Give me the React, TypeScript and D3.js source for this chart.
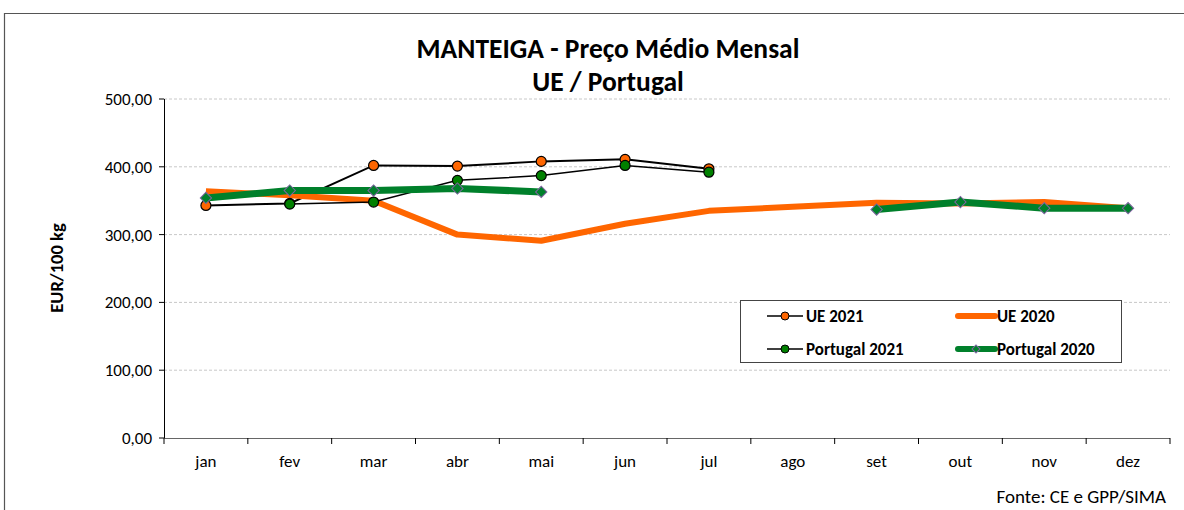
import React from "react";
import * as d3 from "d3";

const months = ["jan", "fev", "mar", "abr", "mai", "jun", "jul", "ago", "set", "out", "nov", "dez"];
const yTicks = [0, 100, 200, 300, 400, 500];
const ue2021: (number | null)[] = [343, 346, 402, 401, 408, 411, 397, null, null, null, null, null];
const ue2020: (number | null)[] = [364, 358, 350, 300, 291, 316, 335, 341, 347, 346, 348, 339];
const pt2021: (number | null)[] = [null, 345, 348, 380, 387, 402, 392, null, null, null, null, null];
const pt2020: (number | null)[] = [354, 365, 365, 368, 363, null, null, null, 337, 348, 339, 339];

const W = 1184;
const H = 510;
const FONT = "Carlito, Lato, 'Liberation Sans', sans-serif";
const ORANGE = "#FF6600";
const GREEN = "#00802B";

export default function App() {
  const x = d3.scaleBand<string>().domain(months).range([164, 1170]);
  const y = d3.scaleLinear().domain([0, 500]).range([438, 99]);
  const cx = (m: string) => (x(m) as number) + x.bandwidth() / 2;

  const mkLine = (vals: (number | null)[]) =>
    d3
      .line<number | null>()
      .defined((d) => d !== null)
      .x((_, i) => cx(months[i]))
      .y((d) => y(d as number))(vals) as string;

  const diamond = d3.symbol().type(d3.symbolSquare).size(64)() as string;
  const diamondSmall = d3.symbol().type(d3.symbolSquare).size(32)() as string;

  const boundaries = d3.range(months.length + 1).map((i) => 164 + i * x.bandwidth());

  return (
    <svg width={W} height={H} style={{ position: "absolute", left: 0, top: 0, background: "#fff" }}>
      {/* frame */}
      <line x1={4} y1={13.5} x2={W} y2={13.5} stroke="#555" strokeWidth={1.2} />
      <line x1={4.5} y1={13} x2={4.5} y2={H} stroke="#555" strokeWidth={1.2} />

      {/* title */}
      <text x={608} y={58} textAnchor="middle" fontFamily={FONT} fontWeight="bold" fontSize={27.5} fill="#000">
        MANTEIGA - Preço Médio Mensal
      </text>
      <text x={608} y={91} textAnchor="middle" fontFamily={FONT} fontWeight="bold" fontSize={27.5} fill="#000">
        UE / Portugal
      </text>

      {/* grid */}
      {yTicks.filter((t) => t > 0).map((t) => (
        <line key={t} x1={164} x2={1170} y1={y(t)} y2={y(t)} stroke="#c8c8c8" strokeWidth={1} strokeDasharray="3,2" />
      ))}

      {/* y axis */}
      <line x1={164.5} x2={164.5} y1={99} y2={438} stroke="#000" strokeWidth={1} />
      {yTicks.map((t) => (
        <g key={t}>
          <line x1={159} x2={164} y1={y(t)} y2={y(t)} stroke="#000" />
          <text x={152} y={y(t) + 6} textAnchor="end" fontFamily={FONT} fontSize={17} fill="#000">
            {d3.format(".2f")(t).replace(".", ",")}
          </text>
        </g>
      ))}
      <text
        transform={`translate(63,268) rotate(-90)`}
        textAnchor="middle"
        fontFamily={FONT}
        fontWeight="bold"
        fontSize={18.5}
        fill="#000"
      >
        EUR/100 kg
      </text>

      {/* x axis */}
      <line x1={164} x2={1170} y1={438.5} y2={438.5} stroke="#666" strokeWidth={1.2} />
      {boundaries.map((b, i) => (
        <line key={i} x1={b} x2={b} y1={438} y2={444} stroke="#000" />
      ))}
      {months.map((m) => (
        <text key={m} x={cx(m)} y={467} textAnchor="middle" fontFamily={FONT} fontSize={17} fill="#000">
          {m}
        </text>
      ))}

      {/* series */}
      <path d={mkLine(ue2021)} fill="none" stroke="#000" strokeWidth={2} />
      <path d={mkLine(ue2020)} fill="none" stroke={ORANGE} strokeWidth={6} strokeLinejoin="round" />
      <path d={mkLine(pt2021)} fill="none" stroke="#000" strokeWidth={1.5} />
      <path d={mkLine(pt2020)} fill="none" stroke={GREEN} strokeWidth={7} strokeLinejoin="round" />

      {ue2021.map((v, i) =>
        v === null ? null : (
          <circle key={"u" + i} cx={cx(months[i])} cy={y(v)} r={5} fill={ORANGE} stroke="#000" strokeWidth={1.2} />
        )
      )}
      {pt2021.map((v, i) =>
        v === null ? null : (
          <circle key={"p" + i} cx={cx(months[i])} cy={y(v)} r={5} fill="#008000" stroke="#000" strokeWidth={1.2} />
        )
      )}
      {pt2020.map((v, i) =>
        v === null ? null : (
          <path
            key={"d" + i}
            d={diamond}
            transform={`translate(${cx(months[i])},${y(v)}) rotate(45)`}
            fill={GREEN}
            stroke="#8064A2"
            strokeWidth={1}
          />
        )
      )}

      {/* legend */}
      <rect x={740.5} y={300.5} width={381} height={62} fill="#fff" stroke="#444" strokeWidth={1} />
      <g fontFamily={FONT} fontWeight="bold" fontSize={17} fill="#000">
        <line x1={767} x2={803} y1={316} y2={316} stroke="#000" strokeWidth={1.5} />
        <circle cx={785} cy={316} r={4} fill={ORANGE} stroke="#000" strokeWidth={1} />
        <text x={806} y={322}>UE 2021</text>

        <line x1={958} x2={995} y1={316} y2={316} stroke={ORANGE} strokeWidth={6} strokeLinecap="round" />
        <text x={997} y={322}>UE 2020</text>

        <line x1={767} x2={803} y1={349} y2={349} stroke="#000" strokeWidth={1.5} />
        <circle cx={785} cy={349} r={4} fill="#008000" stroke="#000" strokeWidth={1} />
        <text x={806} y={355}>Portugal 2021</text>

        <line x1={958} x2={995} y1={349} y2={349} stroke={GREEN} strokeWidth={6} strokeLinecap="round" />
        <path d={diamondSmall} transform="translate(976,349) rotate(45)" fill={GREEN} stroke="#8064A2" strokeWidth={1} />
        <text x={997} y={355}>Portugal 2020</text>
      </g>

      {/* source */}
      <text x={1166} y={503} textAnchor="end" fontFamily={FONT} fontSize={19} fill="#000">
        Fonte: CE e GPP/SIMA
      </text>
    </svg>
  );
}
